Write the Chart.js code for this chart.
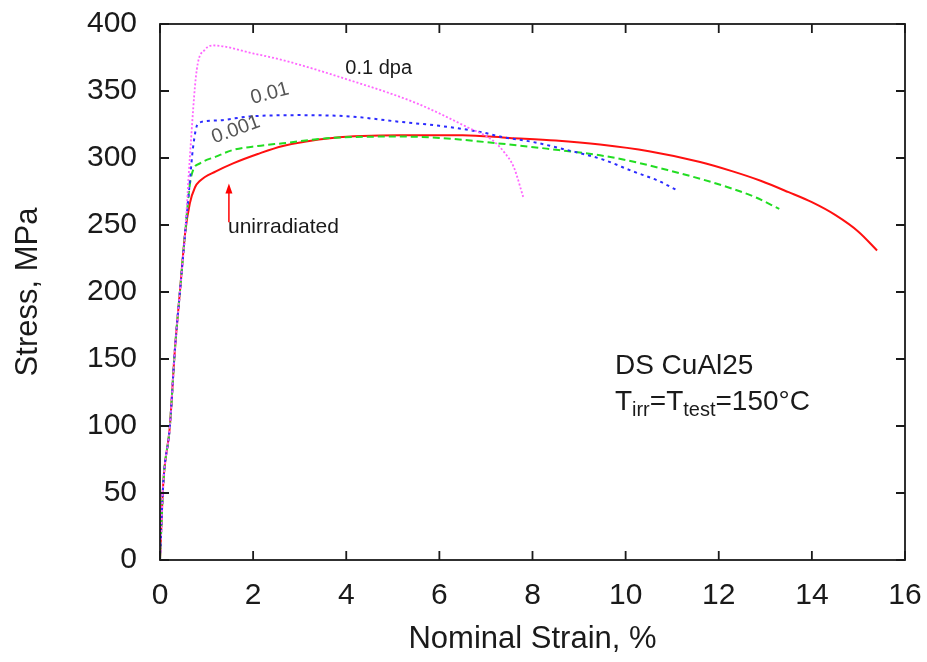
<!DOCTYPE html>
<html>
<head>
<meta charset="utf-8">
<script src="https://cdn.jsdelivr.net/npm/chart.js@4"></script>
<style>
	html, body { margin: 0; padding: 0; background: #fff; }
	#wrap { width: 927px; height: 662px; }
</style>
</head>
<body>
<div id="wrap"><canvas id="chartStrain"></canvas></div>
<script>
// strain (%) / stress (MPa)
var redX = [0, 0.07, 0.21, 0.32, 0.43, 0.54, 0.64, 0.75, 0.86, 1.2, 1.57, 2.1, 2.64, 3.7, 5.15, 6.5, 7.5, 8.5, 9.45, 10.5, 11.6, 12.3, 12.9, 13.5, 14.0, 14.5, 15.0, 15.4];
var redY = [0, 57, 99, 157, 201, 244, 266, 278, 283, 290, 296, 303, 309, 315, 317, 317, 315, 313, 310, 305, 297, 290, 283, 274.5, 267, 257.5, 245, 231];

var greenX = [0, 0.07, 0.21, 0.32, 0.43, 0.54, 0.64, 0.71, 0.86, 1.2, 1.57, 2.1, 2.64, 3.7, 5.15, 6.0, 7.24, 8.3, 9.45, 10.2, 10.9, 11.6, 12.3, 12.8, 13.3];
var greenY = [0, 57, 99, 157, 201, 244, 280, 291, 296, 301, 306, 309, 311, 315, 316, 315, 311, 307, 302, 297, 291, 284.5, 277, 270.5, 262];

var blueX = [0, 0.07, 0.21, 0.32, 0.43, 0.54, 0.64, 0.71, 0.82, 1.2, 1.93, 3.0, 4.08, 5.15, 6.0, 6.94, 7.3, 8.0, 8.74, 9.5, 10.16, 10.7, 11.1];
var blueY = [0, 57, 99, 157, 201, 244, 282, 308, 326, 328, 331, 332, 331, 327, 324, 319, 316, 312, 306, 299, 290, 283, 276];

var pinkX = [0, 0.07, 0.21, 0.32, 0.43, 0.54, 0.64, 0.79, 0.97, 1.14, 2.0, 2.64, 4.08, 5.5, 6.6, 7.15, 7.4, 7.6, 7.8];
var pinkY = [0, 57, 99, 157, 201, 244, 300, 366, 381, 384, 378, 373, 358, 341, 323, 313, 304, 293, 271];

var xTicks = [0, 2, 4, 6, 8, 10, 12, 14, 16];
var yTicks = [0, 50, 100, 150, 200, 250, 300, 350, 400];

function pts(xs, ys) {
	return xs.map(function (x, i) { return { x: x, y: ys[i] }; });
}

var FONT = '"Liberation Sans", Arial, sans-serif';
var INK = '#1a1a1a';

// gnuplot style frame with inward ticks on all sides, plus the labels
var framePlugin = {
	id: 'frame',
	afterDatasetsDraw: function (chart) {
		var ctx = chart.ctx;
		var a = chart.chartArea;
		var xs = chart.scales.x;
		var ys = chart.scales.y;
		var tl = 9;

		ctx.save();
		ctx.strokeStyle = INK;
		ctx.lineWidth = 1.8;
		ctx.strokeRect(a.left, a.top, a.right - a.left, a.bottom - a.top);

		ctx.beginPath();
		xTicks.forEach(function (v) {
			var px = xs.getPixelForValue(v);
			ctx.moveTo(px, a.bottom); ctx.lineTo(px, a.bottom - tl);
			ctx.moveTo(px, a.top); ctx.lineTo(px, a.top + tl);
		});
		yTicks.forEach(function (v) {
			var py = ys.getPixelForValue(v);
			ctx.moveTo(a.left, py); ctx.lineTo(a.left + tl, py);
			ctx.moveTo(a.right, py); ctx.lineTo(a.right - tl, py);
		});
		ctx.stroke();

		function at(x, y) { return [xs.getPixelForValue(x), ys.getPixelForValue(y)]; }

		ctx.textBaseline = 'middle';
		ctx.textAlign = 'left';

		var p = at(3.98, 367);
		ctx.fillStyle = INK;
		ctx.font = '20px ' + FONT;
		ctx.fillText('0.1 dpa', p[0], p[1]);

		ctx.fillStyle = '#555';
		p = at(2.36, 348);
		ctx.save();
		ctx.translate(p[0], p[1]);
		ctx.rotate(-15 * Math.PI / 180);
		ctx.textAlign = 'center';
		ctx.fillText('0.01', 0, 0);
		ctx.restore();

		p = at(1.63, 321);
		ctx.save();
		ctx.translate(p[0], p[1]);
		ctx.rotate(-20 * Math.PI / 180);
		ctx.textAlign = 'center';
		ctx.fillText('0.001', 0, 0);
		ctx.restore();

		ctx.fillStyle = INK;
		ctx.font = '21px ' + FONT;
		p = at(1.46, 248);
		ctx.fillText('unirradiated', p[0], p[1]);

		// arrow up to the red curve
		var a0 = at(1.48, 252);
		var a1 = at(1.48, 281);
		ctx.strokeStyle = '#ff0000';
		ctx.fillStyle = '#ff0000';
		ctx.lineWidth = 1.5;
		ctx.beginPath();
		ctx.moveTo(a0[0], a0[1]);
		ctx.lineTo(a1[0], a1[1] + 6);
		ctx.stroke();
		ctx.beginPath();
		ctx.moveTo(a1[0], a1[1]);
		ctx.lineTo(a1[0] - 3.5, a1[1] + 10);
		ctx.lineTo(a1[0] + 3.5, a1[1] + 10);
		ctx.closePath();
		ctx.fill();

		ctx.fillStyle = INK;
		ctx.font = '28px ' + FONT;
		p = at(9.77, 144.5);
		ctx.fillText('DS CuAl25', p[0], p[1]);

		p = at(9.77, 118);
		var x = p[0];
		var y = p[1];
		var parts = [
			['T', 0], ['irr', 1], ['=T', 0], ['test', 1], ['=150°C', 0]
		];
		parts.forEach(function (part) {
			if (part[1]) {
				ctx.font = '20px ' + FONT;
				ctx.fillText(part[0], x, y + 9);
			} else {
				ctx.font = '28px ' + FONT;
				ctx.fillText(part[0], x, y);
			}
			x += ctx.measureText(part[0]).width;
		});

		ctx.restore();
	}
};

var base = {
	fill: false,
	pointRadius: 0,
	borderWidth: 2,
	cubicInterpolationMode: 'monotone'
};

function series(label, data, color, dash, width) {
	return Object.assign({}, base, {
		label: label,
		data: data,
		borderColor: color,
		borderDash: dash,
		borderWidth: width || 2
	});
}

new Chart(document.getElementById('chartStrain'), {
	type: 'line',
	data: {
		datasets: [
			series('0.1 dpa', pts(pinkX, pinkY), '#ff66ff', [2, 2], 1.8),
			series('0.01', pts(blueX, blueY), '#2b2bff', [3, 4], 2),
			series('0.001', pts(greenX, greenY), '#22dd22', [7, 4], 2),
			series('unirradiated', pts(redX, redY), '#ff1010', [], 2)
		]
	},
	options: {
		responsive: true,
		maintainAspectRatio: false,
		animation: false,
		layout: { padding: { top: 24, right: 22, left: 0, bottom: 0 } },
		plugins: { legend: { display: false }, tooltip: { enabled: false } },
		scales: {
			x: {
				type: 'linear',
				min: 0,
				max: 16,
				afterFit: function (s) {
					s.height = 102;
					s.paddingLeft = 0;
					s.paddingRight = 0;
				},
				afterBuildTicks: function (s) {
					s.ticks = xTicks.map(function (v) { return { value: v }; });
				},
				grid: { display: false, drawTicks: false },
				border: { display: false },
				ticks: { padding: 18, color: INK, font: { size: 30, family: FONT }, maxRotation: 0 },
				title: {
					display: true,
					text: 'Nominal Strain, %',
					color: INK,
					font: { size: 31, family: FONT },
					padding: { top: 4, bottom: 4 }
				}
			},
			y: {
				type: 'linear',
				min: 0,
				max: 400,
				afterFit: function (s) {
					s.width = 160;
					s.paddingTop = 0;
					s.paddingBottom = 0;
				},
				afterBuildTicks: function (s) {
					s.ticks = yTicks.map(function (v) { return { value: v }; });
				},
				grid: { display: false, drawTicks: false },
				border: { display: false },
				ticks: { padding: 23, color: INK, font: { size: 30, family: FONT } },
				title: {
					display: true,
					text: 'Stress, MPa',
					color: INK,
					font: { size: 31, family: FONT },
					padding: { top: 10, bottom: 0 }
				}
			}
		}
	},
	plugins: [framePlugin]
});
</script>
</body>
</html>
